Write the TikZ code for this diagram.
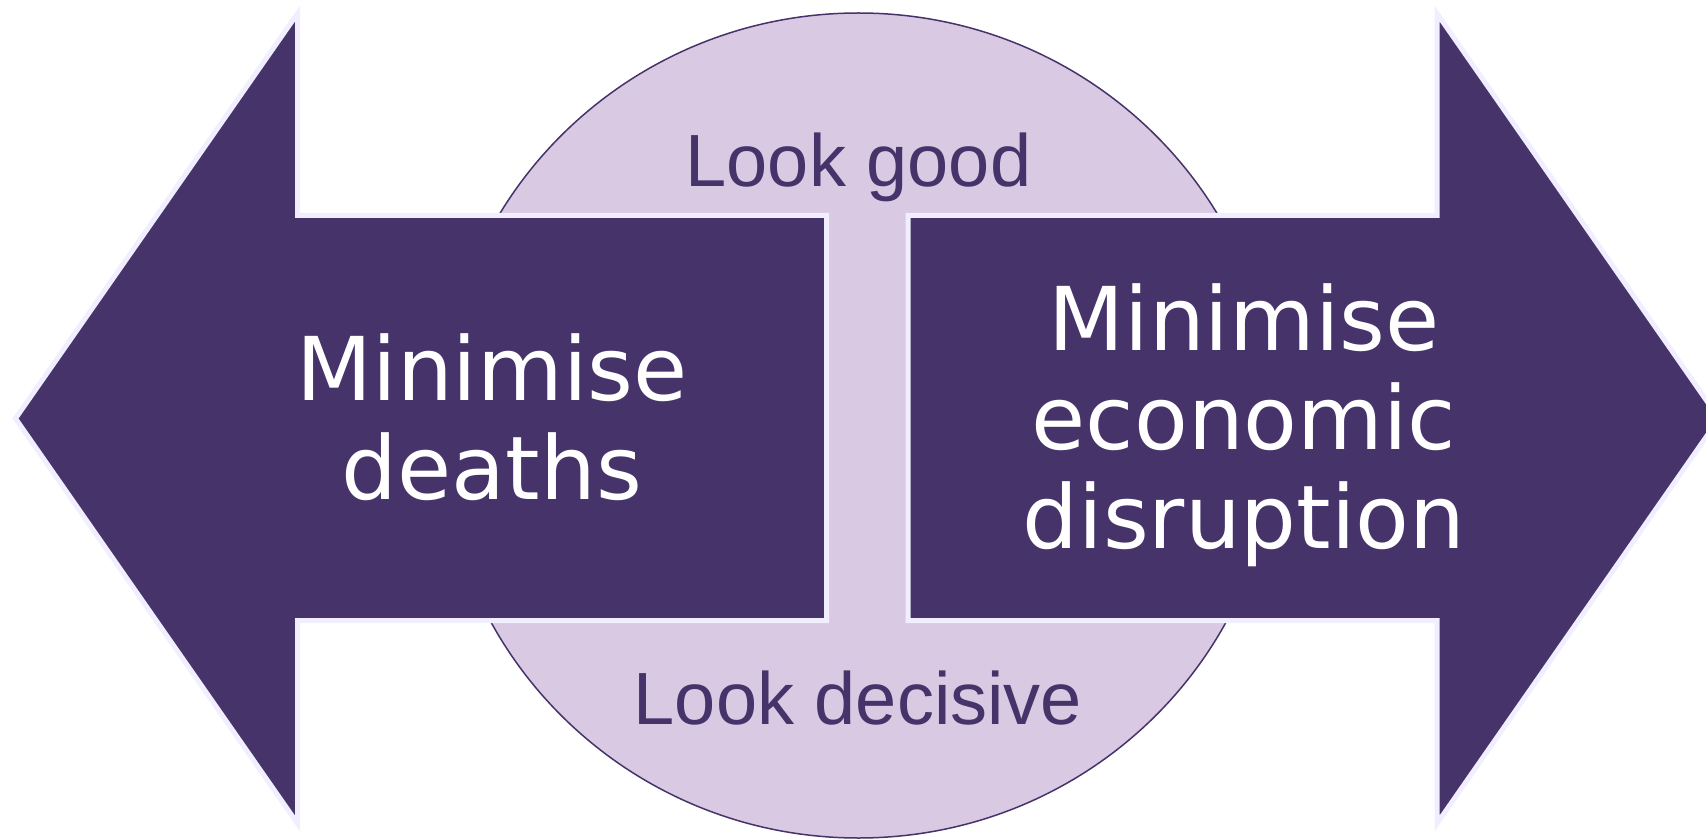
\documentclass[tikz,border=0pt]{standalone}
\usepackage{fontspec}
\usepackage{tikz}
\newfontfamily\boxfont{DejaVu Sans}
\newfontfamily\lookfont{Liberation Sans}
\definecolor{darkpurple}{HTML}{45336A}
\definecolor{lilac}{HTML}{D9C9E3}
\definecolor{paleedge}{HTML}{F1EFFF}

\begin{document}
\begin{tikzpicture}[x=0.5pt,y=-0.5pt,
    arrowshape/.style={fill=darkpurple,draw=paleedge,line width=2.5pt,line join=miter},
    goaltext/.style={text=white,font=\boxfont\fontsize{44}{49.5}\selectfont,align=center,anchor=base,inner sep=0pt},
    looktext/.style={text=darkpurple,font=\lookfont\fontsize{37}{44}\selectfont,anchor=base,inner sep=0pt}]
    \useasboundingbox (0,0) rectangle (1706,839);
    % Draw the background circle
    \draw[darkpurple,fill=lilac,line width=0.75pt] (858.5,425.5) ellipse [x radius=418, y radius=412.5];
    % Draw the two arrows
    \draw[arrowshape] (15.5,418.5) -- (297.5,13.5) -- (297.5,215.5) -- (826.5,215.5) -- (826.5,620.5) -- (297.5,620.5) -- (297.5,823.5) -- cycle;
    \draw[arrowshape] (1719,418.5) -- (1437,13.5) -- (1437,215.5) -- (908,215.5) -- (908,620.5) -- (1437,620.5) -- (1437,823.5) -- cycle;
    % Labels (base = baseline of the last line)
    \node[looktext] (good) at (858.5,187) {Look good};
    \node[looktext] (decisive) at (858,724) {Look decisive};
    \node[goaltext] (deaths) at (492,499) {Minimise\\deaths};
    \node[goaltext] (economy) at (1244,548) {Minimise\\economic\\disruption};
\end{tikzpicture}
\end{document}
